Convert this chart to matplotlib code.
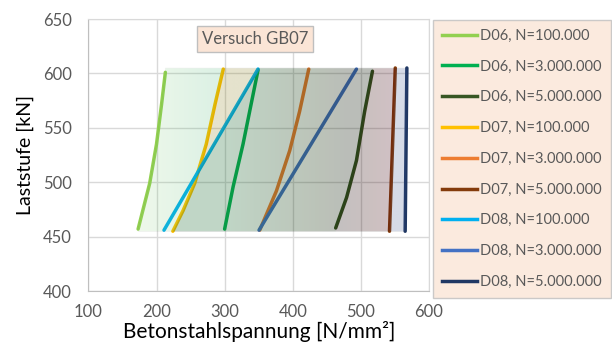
import numpy as np
import matplotlib
matplotlib.use("Agg")
import matplotlib.pyplot as plt
from matplotlib.lines import Line2D

# ---- data: load level [kN] vs. rebar stress [N/mm²] ----
d06_100k_load = [457, 499, 535, 572, 601]
d06_100k_stress = [173, 190, 200, 207.5, 213]
d06_3m_load = [457, 496, 535, 603]
d06_3m_stress = [300, 312.5, 327, 349]
d06_5m_load = [458, 486, 520, 565, 602]
d06_5m_stress = [463, 479, 493.5, 505.5, 517]
d07_100k_load = [455, 474, 499, 535, 572, 604]
d07_100k_stress = [224, 239, 256, 273, 286, 298]
d07_3m_load = [456, 492, 529, 565, 604]
d07_3m_stress = [351.5, 376, 395.5, 410, 423.5]
d07_5m_load = [455, 605]
d07_5m_stress = [542, 550.5]
d08_100k_load = [456, 604]
d08_100k_stress = [211, 349]
d08_3m_load = [456, 604]
d08_3m_stress = [350.5, 493.5]
d08_5m_load = [455, 605]
d08_5m_stress = [565, 567.5]

labels = ["D06, N=100.000", "D06, N=3.000.000", "D06, N=5.000.000",
          "D07, N=100.000", "D07, N=3.000.000", "D07, N=5.000.000",
          "D08, N=100.000", "D08, N=3.000.000", "D08, N=5.000.000"]
colors = ["#92D050", "#00B050", "#375623",
          "#FFC000", "#ED7D31", "#843C0C",
          "#00B0F0", "#4472C4", "#203864"]
series = [(d06_100k_stress, d06_100k_load), (d06_3m_stress, d06_3m_load),
          (d06_5m_stress, d06_5m_load), (d07_100k_stress, d07_100k_load),
          (d07_3m_stress, d07_3m_load), (d07_5m_stress, d07_5m_load),
          (d08_100k_stress, d08_100k_load), (d08_3m_stress, d08_3m_load),
          (d08_5m_stress, d08_5m_load)]

x_ticks = [100, 200, 300, 400, 500, 600]
y_ticks = [400, 450, 500, 550, 600, 650]

plt.rcParams["font.family"] = ["Lato", "DejaVu Sans"]
grey_txt = "#595959"

fig = plt.figure(figsize=(6.12, 3.52), dpi=100)
ax = fig.add_axes([0.1444, 0.173, 0.701 - 0.1444, 0.946 - 0.173])

for (xs, ys), c, lab in zip(series, colors, labels):
    ax.plot(xs, ys, color=c, lw=2.5, solid_capstyle="round", zorder=2, label=lab)

# ---- translucent band between the curves ----
def band_x(idx, L):
    xs, ys = series[idx]
    return np.interp(L, ys, xs)

gx = np.linspace(160, 580, 1600)
gL = np.linspace(450, 610, 640)
X, L = np.meshgrid(gx, gL)
xl = band_x(0, L)
xy = band_x(3, L)
xc = band_x(6, L)
xdg = band_x(2, L)
xbr = band_x(5, L)
xnv = band_x(8, L)
inside = (L >= 455) & (L <= 604.5) & (X >= xl) & (X <= xnv)

def tint(c_left, c_right, x0, x1, alpha):
    t = np.clip((X - x0) / (x1 - x0), 0, 1)[..., None]
    obs = np.array(c_left) * (1 - t) + np.array(c_right) * t
    rgb = np.clip((obs - (1 - alpha) * 255) / alpha, 0, 255) / 255
    return rgb, alpha

img = np.zeros(X.shape + (4,))
lo = np.minimum(xy, xc)
hi = np.maximum(xy, xc)
regions = [
    (inside & (X < hi), tint((238, 248, 234), (220, 241, 229), 175, 290, 0.15)),
    (inside & (X >= lo) & (X < hi) & (xy < xc), tint((232, 228, 194), (228, 226, 198), 220, 340, 0.2)),
    (inside & (X >= hi) & (X < xdg), tint((192, 214, 198), (186, 189, 180), 300, 480, 0.28)),
    (inside & (X >= xdg) & (X < xbr), tint((196, 188, 184), (208, 192, 196), 470, 545, 0.25)),
    (inside & (X >= xbr), tint((214, 219, 231), (214, 219, 231), 540, 570, 0.2)),
]
for mask, (rgb, a) in regions:
    img[mask, :3] = rgb[mask]
    img[mask, 3] = a

ax.imshow(img, extent=[gx[0], gx[-1], gL[0], gL[-1]], origin="lower",
          aspect="auto", interpolation="bilinear", zorder=3)

ax.set_xlim(100, 600)
ax.set_ylim(400, 650)
ax.set_xticks(x_ticks)
ax.set_yticks(y_ticks)
ax.grid(True, color="#D9D9D9", lw=1)
ax.set_axisbelow(True)
for s in ax.spines.values():
    s.set_color("#D9D9D9")
ax.spines["left"].set_color("#BFBFBF")
ax.spines["bottom"].set_color("#BFBFBF")
ax.tick_params(length=0, labelsize=12, labelcolor=grey_txt)
ax.tick_params(axis="y", pad=12)
ax.tick_params(axis="x", pad=9)

ax.set_xlabel("Betonstahlspannung [N/mm²]", fontsize=15, color="black", labelpad=1)
ax.set_ylabel("Laststufe [kN]", fontsize=14, color="black", labelpad=6)

ax.text(345, 632, "Versuch GB07", fontsize=12, color=grey_txt, ha="center", va="center",
        bbox=dict(boxstyle="square,pad=0.3", fc="#FBE5D6", ec="#BFBFBF", lw=1), zorder=5)

handles = [Line2D([], [], color=c, lw=2.5) for c in colors]
leg = fig.legend(handles, labels, loc="upper left", bbox_to_anchor=(433 / 612, 1 - 20 / 352),
                 frameon=True, fancybox=False, fontsize=10.5, labelcolor=grey_txt,
                 handlelength=2.4, handletextpad=0.25, labelspacing=1.15,
                 borderpad=0.6, borderaxespad=0)
leg.get_frame().set_facecolor("#FBE5D6")
leg.get_frame().set_edgecolor("#BFBFBF")
leg.get_frame().set_linewidth(1)

fig.savefig("out.png", dpi=100)
